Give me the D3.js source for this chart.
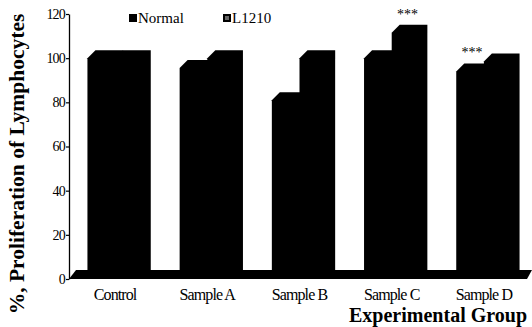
<!DOCTYPE html>
<html>
<head>
<meta charset="utf-8">
<script src="https://cdn.jsdelivr.net/npm/d3@7"></script>
<style>
  body { margin: 0; background: #fff; }
  svg { display: block; }
</style>
</head>
<body>
<div id="chart"></div>
<script>
const groups = ['Control', 'Sample A', 'Sample B', 'Sample C', 'Sample D'];
const seriesNames = ['Normal', 'L1210'];
const normal = [100, 95.5, 81, 100, 94];
const l1210 = [100, 100, 100, 111.5, 98.5];
const sigNormal = [false, false, false, false, true];
const sigL1210 = [false, false, false, true, false];
const yTicks = [0, 20, 40, 60, 80, 100, 120];

const width = 532, height = 327;
const font = '"Liberation Serif", serif';
const depth = 8;

const svg = d3.select('#chart').append('svg')
  .attr('width', width).attr('height', height);

const x = d3.scaleBand().domain(groups).range([69, 530]).paddingInner(0.4).paddingOuter(0.2);
const sub = d3.scaleBand().domain(seriesNames).range([0, x.bandwidth()]);
const y = d3.scaleLinear().domain([0, 120]).range([279, 14]);

// Floor slab
const y0 = y(0);
svg.append('path')
  .attr('d', `M69,${y0} L${69 + 7},${y0 - 9} L532,${y0 - 9} L527,${y0} Z`)
  .attr('fill', '#000');

// Bars (front, top, side in one outline)
const bars = [];
groups.forEach((g, i) => {
  bars.push({ g, s: 'Normal', v: normal[i], sig: sigNormal[i] });
  bars.push({ g, s: 'L1210', v: l1210[i], sig: sigL1210[i] });
});

const barG = svg.append('g');
bars.forEach(b => {
  const x0 = x(b.g) + sub(b.s);
  const w = sub.bandwidth();
  const yt = y(b.v);
  barG.append('path')
    .attr('d', `M${x0},${y0} L${x0},${yt} L${x0 + depth},${yt - depth} L${x0 + w + depth},${yt - depth} L${x0 + w + depth},${y0 - depth} L${x0 + w},${y0} Z`)
    .attr('fill', '#000');
  if (b.sig) {
    svg.append('text')
      .attr('x', x0 + w / 2 + 2)
      .attr('y', yt - depth - 6)
      .attr('text-anchor', 'middle')
      .attr('font-family', font)
      .attr('font-size', 14)
      .attr('fill', '#000')
      .text('***');
  }
});

// Y axis
const axis = svg.append('g')
  .attr('transform', 'translate(69,0)')
  .call(d3.axisLeft(y).tickValues(yTicks).tickSize(3).tickPadding(1).tickSizeOuter(0));
axis.select('.domain').attr('stroke', '#000').attr('stroke-width', 1.3);
axis.selectAll('.tick line').attr('stroke', '#000').attr('stroke-width', 1.2);
axis.selectAll('.tick text')
  .attr('font-family', font).attr('font-size', 14).attr('fill', '#000')
  .attr('letter-spacing', -0.8);

// X labels
svg.append('g').selectAll('text').data(groups).join('text')
  .attr('x', d => x(d) + x.bandwidth() / 2)
  .attr('y', 300)
  .attr('text-anchor', 'middle')
  .attr('font-family', font)
  .attr('font-size', 16)
  .attr('letter-spacing', -0.9)
  .attr('fill', '#000')
  .text(d => d);

// Axis titles
svg.append('text')
  .attr('x', 527).attr('y', 322)
  .attr('text-anchor', 'end')
  .attr('font-family', font).attr('font-weight', 'bold').attr('font-size', 20)
  .attr('fill', '#000')
  .text('Experimental Group');

svg.append('text')
  .attr('transform', 'translate(24,164) rotate(-90)')
  .attr('text-anchor', 'middle')
  .attr('font-family', font).attr('font-weight', 'bold').attr('font-size', 21.5)
  .attr('fill', '#000')
  .text('%, Proliferation of Lymphocytes');

// Legend
const legendX = [129, 223];
seriesNames.forEach((s, i) => {
  const lg = svg.append('g').attr('transform', `translate(${legendX[i]},14)`);
  lg.append('rect').attr('x', 0).attr('y', 0).attr('width', 8).attr('height', 8).attr('fill', '#000');
  lg.append('rect').attr('x', 2).attr('y', 2).attr('width', 4).attr('height', 4)
    .attr('fill', i === 0 ? '#000' : '#666');
  lg.append('text')
    .attr('x', 9).attr('y', 8.5)
    .attr('font-family', font).attr('font-size', 15)
    .attr('fill', '#000')
    .text(s);
});
</script>
</body>
</html>
